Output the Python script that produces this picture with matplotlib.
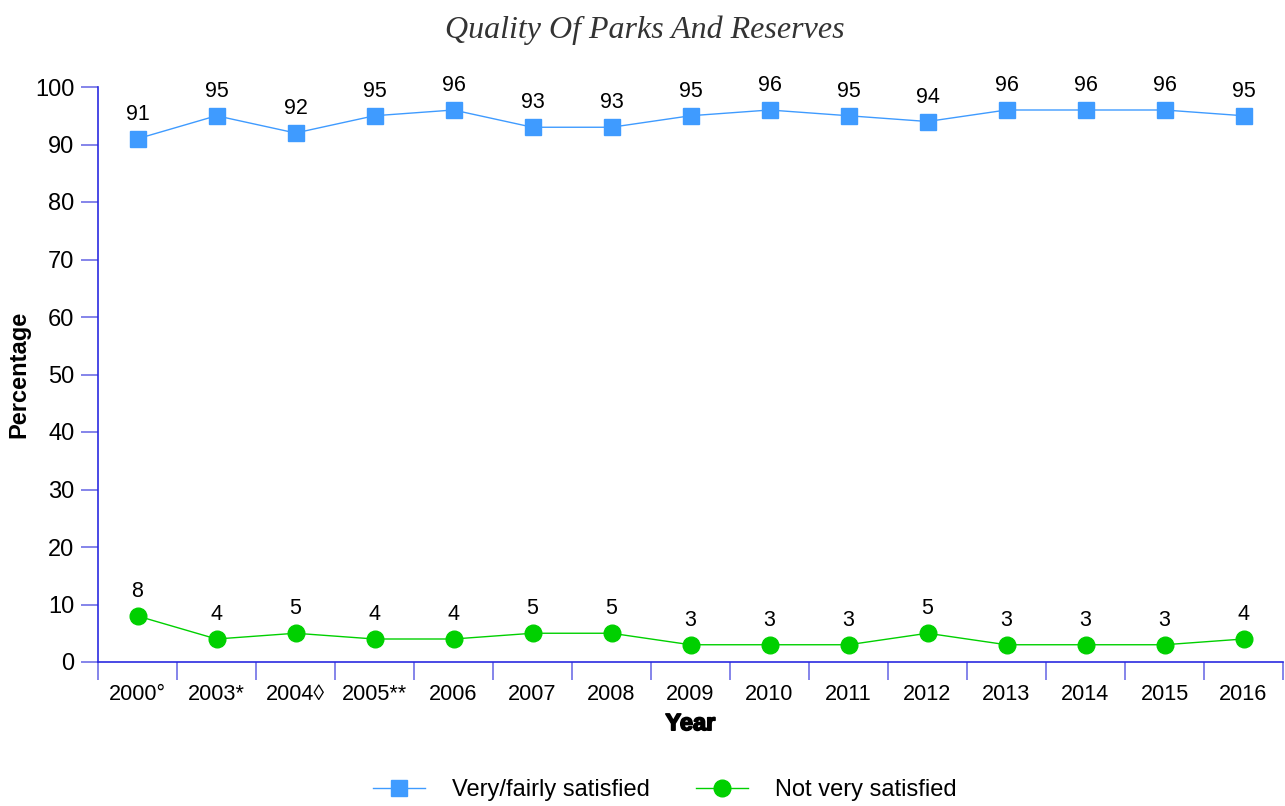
import matplotlib.pyplot as plt
import matplotlib.patheffects as pe
import numpy as np

# ============================================
# DATA
# ============================================

years = ["2000°", "2003*", "2004◊", "2005**", "2006", "2007", "2008",
         "2009", "2010", "2011", "2012", "2013", "2014", "2015", "2016"]

satisfied = [91, 95, 92, 95, 96, 93, 93, 95, 96, 95, 94, 96, 96, 96, 95]
not_satisfied = [8, 4, 5, 4, 4, 5, 5, 3, 3, 3, 5, 3, 3, 3, 4]

BLUE = "#3f9bff"
GREEN = "#00d000"
AXIS = "#2a2ae0"
TICK = "#6f6fe6"

plt.rcParams["font.family"] = ["Liberation Sans", "DejaVu Sans"]

# ============================================
# FIGURE
# ============================================

fig = plt.figure(figsize=(12.85, 8.06), dpi=100)
ax = fig.add_axes([98 / 1285, 144 / 806, 1185 / 1285, 575 / 806])

x = np.arange(len(years))

ax.plot(x, satisfied, color=BLUE, lw=1, marker="s", ms=11.5,
        label="Very/fairly satisfied")
ax.plot(x, not_satisfied, color=GREEN, lw=1, marker="o", ms=12,
        label="Not very satisfied")

for xi, v in zip(x, satisfied):
    ax.annotate(f"{v}", (xi, v), xytext=(0, 10), textcoords="offset points",
                ha="center", va="bottom", fontsize=15.5)
for xi, v in zip(x, not_satisfied):
    ax.annotate(f"{v}", (xi, v), xytext=(0, 10), textcoords="offset points",
                ha="center", va="bottom", fontsize=15.5)

ax.set_xlim(-0.5, len(years) - 0.5)
ax.set_ylim(0, 100)
ax.set_yticks(range(0, 101, 10))

# category boundaries as x ticks, labels centred between them
ax.set_xticks(np.arange(-0.5, len(years), 1))
ax.set_xticklabels([])
ax.set_xticks(x, minor=True)
ax.set_xticklabels(years, minor=True, fontsize=15.6)
ax.tick_params(axis="x", which="minor", length=0, pad=16)
ax.tick_params(axis="x", which="major", length=13, color=TICK, width=1.2)
ax.tick_params(axis="y", length=12, color=TICK, width=1.2, labelsize=17, pad=5)

for side in ["top", "right"]:
    ax.spines[side].set_visible(False)
for side in ["left", "bottom"]:
    ax.spines[side].set_color(AXIS)
    ax.spines[side].set_linewidth(1.2)

ax.set_ylabel("Percentage", fontsize=17, fontweight="bold", labelpad=3)
xl = ax.set_xlabel("Year", fontsize=17, fontweight="bold", labelpad=5)
xl.set_path_effects([pe.withStroke(linewidth=1.2, foreground="black")])

fig.text(0.502, 0.963, "Quality Of Parks And Reserves", ha="center", va="center",
         fontsize=23, fontstyle="italic", family=["Liberation Serif", "DejaVu Serif"],
         color="#333333")

fig.legend(loc="center", bbox_to_anchor=(0.5175, 0.02), ncol=2, frameon=False,
           fontsize=17, handlelength=2.2, columnspacing=1.95, handletextpad=1.15)

plt.savefig("out.png", dpi=100)
plt.close()
